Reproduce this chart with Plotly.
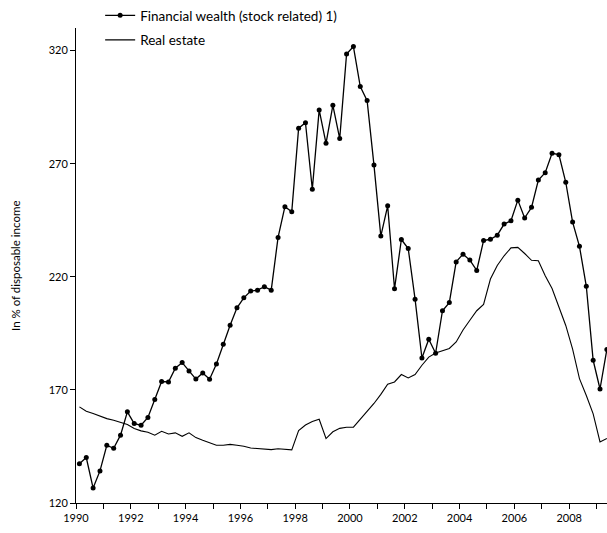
import plotly.graph_objects as go

# Quarterly data, 1990Q1 - 2009Q2 (in % of disposable income)
years = list(range(1990, 2010))
quarters = [y + (q - 0.5) / 4 for y in years for q in range(1, 5)][:78]

financial_wealth = [
    137.4, 140.1, 126.6, 134.2, 145.5, 144.2, 150.0, 160.3, 155.1, 154.4,
    157.8, 165.8, 173.7, 173.5, 179.6, 182.1, 178.4, 174.8, 177.5, 174.7,
    181.5, 190.2, 198.6, 206.3, 210.7, 213.7, 214.1, 215.6, 214.1, 237.4,
    251.0, 248.8, 285.7, 288.1, 258.7, 293.8, 279.0, 295.8, 281.1, 318.5,
    321.8, 304.1, 297.9, 269.4, 238.0, 251.4, 214.7, 236.5, 232.5, 210.1,
    184.1, 192.4, 186.2, 205.0, 208.6, 226.6, 230.0, 227.4, 222.8, 236.0,
    236.6, 238.4, 243.3, 244.8, 253.9, 246.0, 250.7, 262.8, 266.0, 274.6,
    274.0, 261.8, 244.2, 233.5, 215.8, 183.1, 170.4, 187.9,
]

real_estate = [
    162.5, 160.6, 159.6, 158.4, 157.3, 156.6, 155.8, 154.7, 152.9, 151.9,
    151.3, 150.0, 151.7, 150.5, 151.0, 149.5, 151.0, 148.9, 147.7, 146.5,
    145.5, 145.5, 145.9, 145.5, 145.1, 144.3, 144.1, 143.9, 143.6, 144.0,
    143.8, 143.5, 152.0, 154.5, 156.0, 157.0, 148.5, 151.5, 153.0, 153.5,
    153.5, 157.0, 160.0, 164.0, 168.0, 172.5, 173.5, 176.8, 175.3, 176.8,
    180.9, 184.5, 186.3, 187.3, 188.3, 191.2, 196.5, 200.8, 205.0, 207.8,
    219.0, 225.0, 229.3, 232.8, 233.0, 230.3, 227.3, 227.1, 220.5, 214.8,
    206.8, 198.5, 188.0, 175.0, 167.5, 159.4, 147.0, 148.5,
]

year_labels = [str(y) if y % 2 == 0 else "" for y in years]
y_ticks = [120, 170, 220, 270, 320]

FONT = "Century Gothic, Lato, sans-serif"

fig = go.Figure()
fig.add_trace(go.Scatter(
    x=quarters, y=financial_wealth, name="Financial wealth (stock related) 1)",
    mode="lines+markers", line=dict(color="black", width=1.3),
    marker=dict(color="black", size=5), legendgroup="a",
))
fig.add_trace(go.Scatter(
    x=quarters, y=real_estate, name="Real estate",
    mode="lines", line=dict(color="black", width=1.1), legendgroup="b",
))

fig.update_layout(
    width=607, height=533,
    margin=dict(l=76, r=0, t=28, b=30, autoexpand=False),
    paper_bgcolor="white", plot_bgcolor="white",
    font=dict(family=FONT, size=11, color="black"),
    legend=dict(x=0.165, y=1.0, xref="container", yref="container",
                xanchor="left", yanchor="top",
                font=dict(size=13.5), tracegroupgap=4, bgcolor="rgba(0,0,0,0)"),
    showlegend=True,
)
fig.add_annotation(
    text="In % of disposable income", xref="paper", yref="paper",
    x=-0.13, y=0.5, textangle=-90, showarrow=False, font=dict(size=11.5),
)
fig.update_xaxes(
    range=[1990, 2009.38], tickvals=years, ticktext=year_labels,
    ticks="outside", ticklen=5, tickcolor="black", showgrid=False,
    showline=True, linecolor="black", linewidth=1, zeroline=False,
    automargin=False,
)
fig.update_yaxes(
    range=[120, 330], tickvals=y_ticks, ticks="outside", ticklen=5,
    tickcolor="black", showgrid=False, showline=True, linecolor="black",
    linewidth=1, zeroline=False, automargin=False,
)

# page body has a default margin, drop it so the figure sits at 0,0
fig.write_html("out.html", config={"displayModeBar": False},
               post_script="document.body.style.margin='0';")
